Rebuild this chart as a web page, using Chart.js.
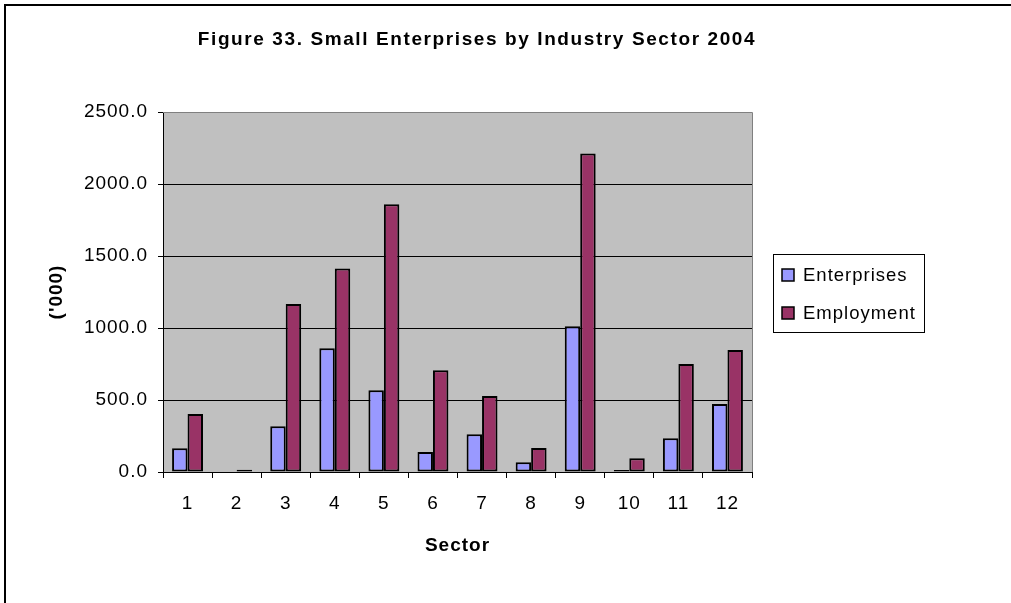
<!DOCTYPE html>
<html lang="en">
<head>
    <meta charset="UTF-8">
    <title>Small Enterprises by Industry Sector 2004</title>
    <script src="https://cdn.jsdelivr.net/npm/chart.js"></script>
    <style>
        body {
            margin: 0;
            padding: 0;
            background: #fff;
        }
        #wrap {
            width: 1011px;
            height: 603px;
        }
    </style>
</head>
<body>
    <div id="wrap">
        <canvas id="sectorChart" width="1011" height="603"></canvas>
    </div>

    <script>
        // Data ('000)
        const sectors = ['1', '2', '3', '4', '5', '6', '7', '8', '9', '10', '11', '12'];
        const enterprises = [165, 0, 317, 859, 567, 139, 262, 67, 1012, 14, 234, 472];
        const employment = [403, 16, 1167, 1414, 1859, 706, 528, 167, 2211, 95, 750, 847];
        const yTicks = [0, 500, 1000, 1500, 2000, 2500];

        const chartTitle = 'Figure 33. Small Enterprises by Industry Sector 2004';
        const FONT = "'Liberation Sans', Arial, sans-serif";

        // Excel-style loose text spacing for everything Chart.js draws
        const spacing = {
            id: 'spacing',
            beforeLayout(chart) { chart.ctx.letterSpacing = '1px'; },
            beforeDraw(chart) { chart.ctx.letterSpacing = '1px'; }
        };

        // grey plot area, outer frame, title and legend box
        const decor = {
            id: 'decor',
            beforeDraw(chart) {
                const { ctx, chartArea: a } = chart;
                ctx.save();
                ctx.fillStyle = '#c0c0c0';
                ctx.fillRect(a.left, a.top, a.right - a.left, a.bottom - a.top);
                ctx.restore();
            },
            afterDraw(chart) {
                const { ctx, chartArea: a } = chart;
                ctx.save();
                // plot border top/right
                ctx.strokeStyle = '#808080';
                ctx.lineWidth = 1;
                ctx.beginPath();
                ctx.moveTo(a.left, a.top + 0.5);
                ctx.lineTo(a.right + 0.5, a.top + 0.5);
                ctx.lineTo(a.right + 0.5, a.bottom);
                ctx.stroke();

                // outer frame (only left and top visible)
                ctx.strokeStyle = '#000';
                ctx.lineWidth = 2;
                ctx.beginPath();
                ctx.moveTo(5, 603);
                ctx.lineTo(5, 5);
                ctx.lineTo(1011, 5);
                ctx.stroke();

                // title
                ctx.fillStyle = '#000';
                ctx.letterSpacing = '1.6px';
                ctx.font = 'bold 19px ' + FONT;
                ctx.textAlign = 'center';
                ctx.textBaseline = 'alphabetic';
                ctx.fillText(chartTitle, 477, 45);

                // legend
                ctx.letterSpacing = '1px';
                ctx.fillStyle = '#fff';
                ctx.fillRect(773, 254, 151, 78);
                ctx.strokeStyle = '#000';
                ctx.lineWidth = 1;
                ctx.strokeRect(773.5, 254.5, 151, 78);
                ctx.font = '18.5px ' + FONT;
                ctx.textAlign = 'left';
                ctx.textBaseline = 'middle';
                chart.data.datasets.forEach((ds, i) => {
                    const cy = 275 + i * 38;
                    ctx.fillStyle = ds.backgroundColor;
                    ctx.fillRect(782, cy - 6, 12, 12);
                    ctx.lineWidth = 1.5;
                    ctx.strokeRect(782, cy - 6, 12, 12);
                    ctx.fillStyle = '#000';
                    ctx.fillText(ds.label, 803, cy + 1);
                });
                ctx.restore();
            }
        };

        const ctx = document.getElementById('sectorChart').getContext('2d');

        new Chart(ctx, {
            type: 'bar',
            data: {
                labels: sectors,
                datasets: [
                    {
                        label: 'Enterprises',
                        data: enterprises,
                        backgroundColor: '#9999ff',
                        borderColor: '#000',
                        borderWidth: 2,
                        borderSkipped: false
                    },
                    {
                        label: 'Employment',
                        data: employment,
                        backgroundColor: '#993366',
                        borderColor: '#000',
                        borderWidth: 2,
                        borderSkipped: false
                    }
                ]
            },
            options: {
                responsive: false,
                animation: false,
                categoryPercentage: 0.63,
                barPercentage: 1,
                layout: {
                    padding: { top: 112, right: 259, left: 0, bottom: 0 }
                },
                plugins: {
                    legend: { display: false },
                    title: { display: false },
                    tooltip: { enabled: false }
                },
                scales: {
                    x: {
                        afterFit: s => { s.height = 131; },
                        grid: {
                            display: true,
                            drawOnChartArea: false,
                            drawTicks: true,
                            tickLength: 6,
                            color: '#000',
                            offset: true
                        },
                        border: { color: '#000', width: 1 },
                        ticks: {
                            color: '#000',
                            font: { family: FONT, size: 19 },
                            padding: 14,
                            maxRotation: 0
                        },
                        title: {
                            display: true,
                            text: 'Sector',
                            color: '#000',
                            font: { family: FONT, size: 19, weight: 'bold' },
                            padding: { top: 0, bottom: 45.6 }
                        }
                    },
                    y: {
                        min: 0,
                        max: 2500,
                        afterFit: s => { s.width = 163; },
                        afterBuildTicks: s => { s.ticks = yTicks.map(v => ({ value: v })); },
                        grid: {
                            color: c => (c.tick && c.tick.value === 2500) ? '#808080' : '#000',
                            tickColor: '#000',
                            tickLength: 5,
                            lineWidth: 1
                        },
                        border: { color: '#000', width: 1 },
                        ticks: {
                            color: '#000',
                            font: { family: FONT, size: 19 },
                            padding: 10,
                            callback: v => Number(v).toFixed(1)
                        },
                        title: {
                            display: true,
                            text: "('000)",
                            color: '#000',
                            font: { family: FONT, size: 19, weight: 'bold' },
                            padding: { top: 45.6, bottom: 0 }
                        }
                    }
                }
            },
            plugins: [spacing, decor]
        });
    </script>
</body>
</html>
